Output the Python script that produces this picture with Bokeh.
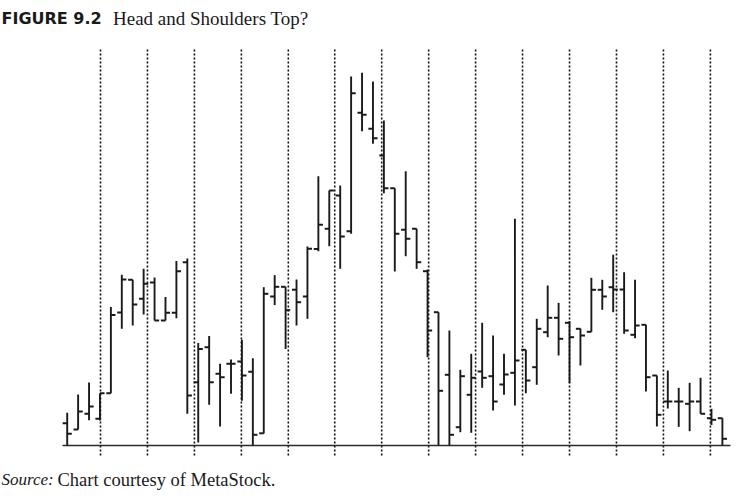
from bokeh.plotting import figure
from bokeh.models import Range1d, Label, ColumnDataSource
from bokeh.embed import file_html
from bokeh.resources import INLINE

# ---- data (weekly OHLC bars) ----
opens = [22.23, 21.6, 23.17, 22.67, 25.23, 33.3, 36.57, 34.67, 36.3, 32.5,
         33.27, 38.33, 26.33, 29.83, 27.17, 28.17, 28.4, 27.37, 21.22, 34.9,
         35.87, 35.58, 34.9, 39.65, 41.67, 45.0, 41.43, 53.27, 51.67, 49.0,
         45.73, 41.57, 41.67, 37.43, 33.33, 27.07, 21.83, 25.07, 27.4, 26.93,
         26.1, 27.27, 29.57, 27.83, 31.33, 32.77, 32.27, 31.67, 31.37, 35.57,
         35.83, 35.6, 31.07, 32.07, 27.0, 24.4, 24.4, 24.17, 24.4, 22.73, 22.73]
highs = [23.27, 25.1, 26.3, 25.23, 33.85, 37.07, 36.57, 37.67, 36.8, 34.85,
         38.45, 38.7, 30.25, 30.95, 28.17, 28.6, 30.57, 28.73, 35.83, 37.04,
         35.87, 36.6, 39.9, 46.93, 45.5, 46.0, 56.9, 57.27, 56.4, 52.5,
         45.73, 47.43, 41.67, 37.6, 33.33, 31.5, 27.57, 29.17, 32.27, 31.0,
         29.17, 42.67, 29.57, 32.67, 36.0, 34.27, 32.43, 31.7, 36.77, 36.57,
         39.07, 37.33, 36.57, 32.07, 27.0, 27.5, 25.77, 26.27, 26.77, 23.67, 22.73]
lows = [20.0, 21.6, 22.53, 22.5, 25.23, 31.67, 32.0, 33.1, 32.5, 32.5,
        32.73, 23.17, 20.3, 24.08, 21.9, 25.17, 24.47, 20.0, 21.2, 34.04,
        29.65, 32.0, 32.67, 39.43, 39.93, 37.67, 41.17, 51.43, 50.17, 45.23,
        37.4, 38.93, 37.67, 28.83, 20.0, 20.0, 21.33, 21.27, 25.77, 23.5,
        25.07, 24.0, 25.23, 26.07, 30.83, 29.0, 26.23, 28.0, 31.37, 33.57,
        33.33, 31.17, 30.73, 25.4, 21.9, 23.7, 21.87, 21.43, 23.17, 22.05, 20.0]
closes = [21.17, 23.4, 23.9, 25.23, 33.05, 36.6, 34.1, 36.17, 32.5, 33.27,
          37.43, 25.0, 29.65, 26.33, 26.82, 28.17, 27.0, 21.07, 35.17, 35.87,
          33.53, 34.33, 39.67, 42.08, 45.5, 40.9, 55.23, 53.07, 50.73, 45.73,
          41.17, 40.67, 38.33, 31.5, 25.47, 21.07, 26.93, 26.77, 26.77, 24.4,
          27.1, 28.5, 26.5, 31.67, 32.77, 30.67, 30.83, 31.0, 35.57, 34.9,
          35.6, 31.5, 32.0, 26.83, 23.07, 24.4, 24.4, 24.4, 23.17, 22.57, 20.67]
# month separators, in bar-index units
month_lines = [3.05, 7.35, 11.65, 15.95, 20.25, 24.5, 28.8, 33.1, 37.4, 41.7,
               46.0, 50.3, 54.6, 58.9]
base_price = 20.0

title_bold = "FIGURE 9.2"
title_text = "Head and Shoulders Top?"
source_lead = "Source:"
source_text = "Chart courtesy of MetaStock."

# ---- layout (page pixels -> data units) ----
W, H = 740, 490
BAR0_PX, BAR_STEP = 66.7, 10.92      # x pixel of first bar, pixels per bar
PRICE_TOP, PX_PER_UNIT = 64.5, 10.0  # price at pixel row 0, pixels per price unit
TICK = 0.42


def px_x(px):
    return (px - BAR0_PX) / BAR_STEP


def px_y(py):
    return PRICE_TOP - py / PX_PER_UNIT


idx = list(range(len(opens)))
src = ColumnDataSource(dict(
    x=idx,
    xl=[i - TICK for i in idx],
    xr=[i + TICK for i in idx],
    open=opens, high=highs, low=lows, close=closes,
))

p = figure(width=W, height=H,
           x_range=Range1d(px_x(0), px_x(W)), y_range=Range1d(px_y(H), px_y(0)),
           x_axis_type=None, y_axis_type=None, toolbar_location=None,
           output_backend="svg", min_border=0)
p.outline_line_color = None
p.background_fill_color = "white"
p.border_fill_color = "white"

# dotted month separators, running a little below the base line
grid_top, grid_bottom = px_y(47), px_y(455)
p.segment(x0=month_lines, y0=[grid_bottom] * len(month_lines),
          x1=month_lines, y1=[grid_top] * len(month_lines),
          line_color="#111111", line_width=1.6, line_dash="2 2")

# base line
p.segment(x0=[px_x(62)], y0=[base_price], x1=[px_x(730)], y1=[base_price],
          line_color="#2a2a2a", line_width=1.6)

ink = "#1a1a1a"
p.segment("x", "low", "x", "high", source=src, line_color=ink, line_width=1.9)
p.segment("xl", "open", "x", "open", source=src, line_color=ink, line_width=2.0)
p.segment("x", "close", "xr", "close", source=src, line_color=ink, line_width=2.0)

p.add_layout(Label(x=px_x(1), y=px_y(18), text=title_bold,
                   text_font="DejaVu Sans", text_font_style="bold",
                   text_font_size="16px", text_color="#1a1a1a",
                   text_baseline="alphabetic", text_align="left"))
p.add_layout(Label(x=px_x(112.5), y=px_y(18), text=title_text,
                   text_font="Liberation Serif", text_font_size="19px",
                   text_color="#1a1a1a", text_baseline="alphabetic",
                   text_align="left"))
p.add_layout(Label(x=px_x(1), y=px_y(479), text=source_lead,
                   text_font="Liberation Serif", text_font_style="italic",
                   text_font_size="17px", text_color="#1a1a1a",
                   text_baseline="alphabetic", text_align="left"))
p.add_layout(Label(x=px_x(57), y=px_y(479), text=source_text,
                   text_font="Liberation Serif", text_font_size="18.5px",
                   text_color="#1a1a1a", text_baseline="alphabetic",
                   text_align="left"))

open("out.html", "w").write(file_html(p, INLINE))
